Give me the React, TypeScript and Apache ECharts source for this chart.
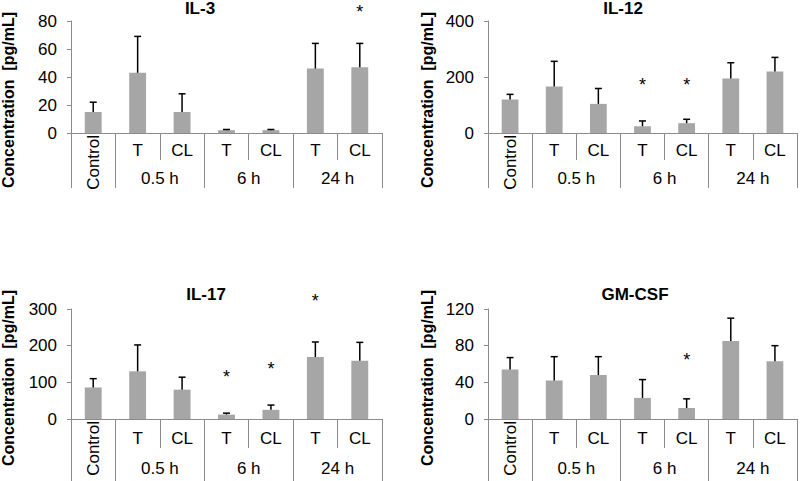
import React, { useEffect, useRef } from "react";
import * as echarts from "echarts";

const categories = ["Control", "T", "CL", "T", "CL", "T", "CL"];
const groupLabels = ["0.5 h", "6 h", "24 h"];
const groupStarts = [0, 1, 3, 5];

const il3Mean = [15, 43, 15, 2, 2, 46, 47];
const il3Err = [7, 26, 13, 0.5, 0.5, 18, 17];
const il3Star = [null, null, null, null, null, null, 89];

const il12Mean = [120, 166, 104, 24, 35, 195, 220];
const il12Err = [18, 90, 55, 19, 14, 56, 50];
const il12Star = [null, null, null, 185, 185, null, null];

const il17Mean = [86, 130, 80, 12, 25, 169, 159];
const il17Err = [24, 72, 34, 4, 13, 41, 50];
const il17Star = [null, null, null, 126, 146, 333, null];

const gmMean = [54, 42, 48, 23, 12, 85, 63];
const gmErr = [13, 26, 20, 20, 10, 25, 17];
const gmStar = [null, null, null, null, 69, null, null];

const titles = ["IL-3", "IL-12", "IL-17", "GM-CSF"];
const yMax = [80, 400, 300, 120];
const yInterval = [20, 200, 100, 40];
const yTitle = "Concentration  [pg/mL]";

const FONT = '"Liberation Sans", Arial, sans-serif';
const AXIS_COLOR = "#8c8c8c";
const BAR_COLOR = "#a6a6a6";
const LABEL_SIZE = 17;

const panels = [
  { mean: il3Mean, err: il3Err, star: il3Star, grid: { left: 71, top: 21, width: 311, height: 112 }, titleX: 200, titleTop: 0, yTitleX: 8, yTitleY: 100, shortTick: 27, longTick: 55, labelMargin: 9, groupMargin: 37 },
  { mean: il12Mean, err: il12Err, star: il12Star, grid: { left: 488, top: 21, width: 310, height: 112 }, titleX: 623, titleTop: 0, yTitleX: 427, yTitleY: 100, shortTick: 27, longTick: 55, labelMargin: 9, groupMargin: 37 },
  { mean: il17Mean, err: il17Err, star: il17Star, grid: { left: 71, top: 309, width: 311, height: 110 }, titleX: 206, titleTop: 286, yTitleX: 8, yTitleY: 378, shortTick: 29, longTick: 64, labelMargin: 11, groupMargin: 41 },
  { mean: gmMean, err: gmErr, star: gmStar, grid: { left: 488, top: 309, width: 310, height: 110 }, titleX: 635, titleTop: 286, yTitleX: 427, yTitleY: 378, shortTick: 29, longTick: 64, labelMargin: 11, groupMargin: 41 },
];

function buildOption() {
  const grid: any[] = [];
  const xAxis: any[] = [];
  const yAxis: any[] = [];
  const series: any[] = [];
  const title: any[] = [];
  const graphic: any[] = [];

  panels.forEach((p, g) => {
    grid.push({ ...p.grid, containLabel: false });
    xAxis.push({
      type: "category",
      gridIndex: g,
      data: categories,
      position: "bottom",
      boundaryGap: true,
      axisLine: { show: true, lineStyle: { color: AXIS_COLOR, width: 1 } },
      axisTick: { show: true, inside: false, length: p.shortTick, interval: 0, lineStyle: { color: AXIS_COLOR } },
      axisLabel: {
        show: true,
        interval: 0,
        margin: p.labelMargin,
        color: "#000",
        fontSize: LABEL_SIZE,
        fontFamily: FONT,
        formatter: (v: string, i: number) => (i === 0 ? "" : v),
      },
      splitLine: { show: false },
    });
    xAxis.push({
      type: "category",
      gridIndex: g,
      data: categories,
      position: "bottom",
      boundaryGap: true,
      axisLine: { show: false },
      axisTick: {
        show: true,
        length: p.longTick,
        interval: (i: number) => groupStarts.includes(i),
        lineStyle: { color: AXIS_COLOR },
      },
      axisLabel: {
        show: true,
        interval: (i: number) => i === 0,
        rotate: 90,
        margin: 2,
        color: "#000",
        fontSize: LABEL_SIZE,
        fontFamily: FONT,
      },
      splitLine: { show: false },
    });
    xAxis.push({
      type: "value",
      gridIndex: g,
      position: "bottom",
      min: 0,
      max: categories.length,
      interval: 1,
      axisLine: { show: false },
      axisTick: { show: false },
      splitLine: { show: false },
      axisLabel: {
        show: true,
        margin: p.groupMargin,
        color: "#000",
        fontSize: LABEL_SIZE,
        fontFamily: FONT,
        showMinLabel: true,
        showMaxLabel: true,
        formatter: (v: number) => {
          const k = groupStarts.indexOf(v - 1);
          return k > 0 ? groupLabels[k - 1] : "";
        },
      },
    });
    yAxis.push({
      type: "value",
      gridIndex: g,
      min: 0,
      max: yMax[g],
      interval: yInterval[g],
      axisLine: { show: true, lineStyle: { color: AXIS_COLOR } },
      axisTick: { show: true, length: 4, lineStyle: { color: AXIS_COLOR } },
      splitLine: { show: false },
      axisLabel: { color: "#000", fontSize: LABEL_SIZE, fontFamily: FONT, margin: 14 },
    });

    series.push({
      type: "bar",
      xAxisIndex: g * 3,
      yAxisIndex: g,
      data: p.mean,
      barWidth: "38%",
      itemStyle: { color: BAR_COLOR },
      z: 2,
    });
    series.push({
      type: "custom",
      xAxisIndex: g * 3,
      yAxisIndex: g,
      clip: false,
      z: 3,
      data: p.mean.map((m, i) => [i, m, m + p.err[i]]),
      encode: { x: 0, y: [1, 2] },
      renderItem: (params: any, api: any) => {
        const x = api.value(0);
        const lo = api.coord([x, api.value(1)]);
        const hi = api.coord([x, api.value(2)]);
        const st = { stroke: "#000", lineWidth: 1.5 };
        return {
          type: "group",
          children: [
            { type: "line", shape: { x1: lo[0], y1: lo[1], x2: hi[0], y2: hi[1] }, style: st },
            { type: "line", shape: { x1: hi[0] - 3.5, y1: hi[1], x2: hi[0] + 3.5, y2: hi[1] }, style: st },
          ],
        };
      },
    });
    const starData = p.star
      .map((v, i) => (v == null ? null : [i, v]))
      .filter((d) => d != null);
    series.push({
      type: "custom",
      xAxisIndex: g * 3,
      yAxisIndex: g,
      clip: false,
      z: 4,
      data: starData,
      encode: { x: 0, y: 1 },
      renderItem: (params: any, api: any) => {
        const pt = api.coord([api.value(0), api.value(1)]);
        return {
          type: "text",
          x: pt[0],
          y: pt[1] + 4,
          style: {
            text: "*",
            font: `18px ${FONT}`,
            align: "center",
            verticalAlign: "middle",
            fill: "#000",
          },
        };
      },
    });

    title.push({
      text: titles[g],
      left: p.titleX,
      top: p.titleTop,
      textAlign: "center",
      padding: 0,
      textStyle: { fontSize: 17, fontWeight: "bold", color: "#000", fontFamily: FONT },
    });
    graphic.push({
      type: "text",
      x: p.yTitleX,
      y: p.yTitleY,
      rotation: Math.PI / 2,
      style: {
        text: yTitle,
        font: `bold 16px ${FONT}`,
        align: "center",
        verticalAlign: "middle",
        fill: "#000",
      },
    });
  });

  return {
    animation: false,
    backgroundColor: "#fff",
    textStyle: { fontFamily: FONT },
    title,
    grid,
    xAxis,
    yAxis,
    series,
    graphic,
  };
}

export default function App() {
  const ref = useRef<HTMLDivElement>(null);
  useEffect(() => {
    if (!ref.current) return;
    const chart = echarts.init(ref.current, undefined, { renderer: "svg" });
    chart.setOption(buildOption() as any);
    return () => chart.dispose();
  }, []);
  return (
    <div
      ref={ref}
      style={{ position: "fixed", left: 0, top: 0, width: 800, height: 481, background: "#fff" }}
    />
  );
}
